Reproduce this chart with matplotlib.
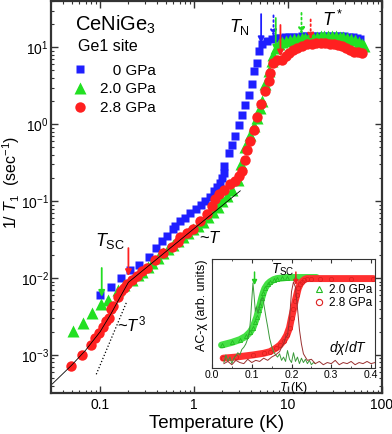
import matplotlib.pyplot as plt
from matplotlib import ticker
from matplotlib.lines import Line2D

plt.rcParams["font.family"] = ["Liberation Sans", "DejaVu Sans"]
plt.rcParams["mathtext.fontset"] = "custom"
plt.rcParams["mathtext.rm"] = "Liberation Sans"
plt.rcParams["mathtext.it"] = "Liberation Sans:italic"
plt.rcParams["mathtext.bf"] = "Liberation Sans:bold"

# ---- main panel: 1/T1 vs T -------------------------------------------------
T_0GPA = [0.099, 0.129, 0.166, 0.207, 0.258, 0.33, 0.393, 0.451, 0.51, 0.592,
          0.626, 0.708, 0.80, 0.906, 1.04, 1.18, 1.31, 1.48, 1.64, 1.75, 1.9,
          1.98, 2.06, 2.09, 2.33, 2.53, 2.74, 2.98, 3.24, 3.51, 3.8, 4.14, 4.3,
          4.67, 4.87, 5.29, 6.0, 6.77, 7.5, 8.3, 9.2, 10.2, 11.3, 12.5, 14,
          15.5, 17.2, 19, 21, 23.5, 26, 29, 32, 35.5, 39.5, 44, 49, 54, 58]
R_0GPA = [0.0060, 0.0076, 0.0100, 0.0127, 0.0147, 0.019, 0.0247, 0.0303,
          0.0351, 0.0429, 0.0473, 0.055, 0.0607, 0.0705, 0.078, 0.089, 0.10,
          0.112, 0.135, 0.153, 0.174, 0.197, 0.232, 0.285, 0.42, 0.54, 0.70,
          0.97, 1.33, 1.76, 2.42, 3.3, 4.9, 6.2, 8.9, 10.9, 12.1, 12.8, 13.2,
          13.4, 13.5, 13.6, 13.7, 13.8, 13.9, 14.0, 14.1, 14.1, 14.2, 14.2,
          14.2, 14.1, 14.1, 14.0, 13.9, 13.7, 13.5, 13.3, 13.0]

T_20GPA = [0.051, 0.066, 0.081, 0.103, 0.121, 0.155, 0.18, 0.22, 0.25, 0.28,
           0.32, 0.36, 0.41, 0.47, 0.53, 0.6, 0.68, 0.77, 0.87, 0.98, 1.1,
           1.24, 1.4, 1.58, 1.78, 2.0, 2.25, 2.55, 2.9, 3.15, 3.5, 3.97, 4.3,
           4.67, 5.06, 5.29, 5.75, 6.2, 6.7, 7.0, 7.5, 8.0, 8.7, 9.6, 10.6,
           11.6, 12.7, 14, 15.3, 16.8, 18.4, 20.2, 22.2, 24.4, 26.8, 29.4,
           32.3, 35.4, 38.9, 42.7, 46.9, 51.5, 56.5, 62, 64]
R_20GPA = [0.00205, 0.0026, 0.0035, 0.0046, 0.0052, 0.0069, 0.0080, 0.0095,
           0.0108, 0.012, 0.0138, 0.0155, 0.018, 0.021, 0.0235, 0.027, 0.030,
           0.034, 0.038, 0.043, 0.048, 0.054, 0.062, 0.072, 0.085, 0.100,
           0.118, 0.14, 0.19, 0.30, 0.50, 0.72, 0.95, 1.2, 1.62, 2.0, 3.3,
           4.9, 6.6, 8.0, 9.9, 10.9, 11.6, 12.2, 12.5, 12.8, 13.0, 13.2, 13.4,
           13.5, 13.7, 13.8, 13.9, 14.0, 14.0, 14.0, 13.9, 13.7, 13.5, 13.2,
           12.8, 12.3, 11.7, 11.0, 10.5]

T_28GPA = [0.049, 0.064, 0.079, 0.089, 0.097, 0.107, 0.116, 0.124, 0.132,
           0.137, 0.155, 0.166, 0.178, 0.193, 0.216, 0.244, 0.276, 0.316,
           0.38, 0.47, 0.58, 0.67, 0.71, 0.835, 0.983, 1.16, 1.37, 1.55,
           1.68, 1.82, 2.06, 2.43, 2.74, 2.98, 3.24, 3.51, 3.66, 3.97, 4.3,
           4.65, 5.2, 5.7, 6.2, 6.5, 7.0, 7.6, 8.7, 9.4, 10.2, 11.3, 12.6,
           14.2, 16, 18, 20, 22.5, 25, 28, 31, 34, 37.5, 41, 45.5, 50.6, 56,
           62]
R_28GPA = [7.2e-4, 1.0e-3, 1.35e-3, 1.68e-3, 1.9e-3, 2.3e-3, 2.8e-3, 3.05e-3,
           3.9e-3, 4.3e-3, 5.7e-3, 6.8e-3, 7.5e-3, 8.4e-3, 9.3e-3, 1.06e-2,
           1.23e-2, 1.36e-2, 1.7e-2, 2.1e-2, 2.5e-2, 2.9e-2, 0.034, 0.0387,
           0.043, 0.055, 0.067, 0.086, 0.105, 0.122, 0.141, 0.165, 0.183,
           0.21, 0.25, 0.345, 0.46, 0.60, 0.85, 1.25, 1.85, 2.7, 3.6, 4.6,
           6.2, 6.9, 6.9, 7.6, 8.5, 9.2, 9.8, 10.4, 10.9, 11.2, 11.3, 11.4,
           11.3, 11.2, 11.0, 10.8, 10.4, 9.8, 9.3, 8.8, 8.6, 8.5]

# guide lines
FIT_T = [0.031, 0.05, 0.07, 0.1, 0.13, 0.16, 0.2, 3.1]
FIT_R = [4.2e-4, 7.4e-4, 1.15e-3, 2.0e-3, 3.4e-3, 5.4e-3, 8.8e-3, 0.136]
CUBE_T = [0.091, 0.193]
CUBE_R = [5.6e-4, 5.0e-3]

# arrows: (T, tail, head, color, linestyle)
MAIN_ARROWS = [
    (5.17, 27, 11.3, "#1f1fff", "-"),
    (7.0, 26, 13.9, "#1f1fff", ":"),
    (7.4, 24, 8.8, "#22dd22", "-"),
    (8.3, 19.5, 7.6, "#ff2020", "-"),
    (13.9, 28, 14.8, "#22dd22", ":"),
    (17.4, 23, 12.6, "#ff2020", ":"),
    (0.104, 0.0135, 0.0057, "#22dd22", "-"),
    (0.20, 0.0245, 0.0106, "#ff2020", "-"),
]

# ---- inset: AC susceptibility ---------------------------------------------
CHI20_T = [0.024, 0.05, 0.07, 0.085, 0.096, 0.103, 0.108, 0.113, 0.117,
           0.121, 0.125, 0.129, 0.133, 0.14, 0.146, 0.155, 0.163, 0.175,
           0.188, 0.21, 0.235, 0.263]
CHI20 = [0.21, 0.235, 0.26, 0.29, 0.33, 0.37, 0.42, 0.47, 0.53, 0.58, 0.64,
         0.69, 0.73, 0.77, 0.79, 0.81, 0.82, 0.825, 0.83, 0.83, 0.83, 0.83]
CHI28_T = [0.028, 0.06, 0.104, 0.13, 0.146, 0.16, 0.171, 0.18, 0.188, 0.195,
           0.2, 0.205, 0.209, 0.213, 0.217, 0.222, 0.226, 0.232, 0.238, 0.25,
           0.272, 0.3, 0.35, 0.406]
CHI28 = [0.09, 0.10, 0.12, 0.135, 0.15, 0.18, 0.21, 0.25, 0.30, 0.37, 0.46,
         0.54, 0.61, 0.67, 0.73, 0.77, 0.79, 0.81, 0.82, 0.82, 0.82, 0.82,
         0.82, 0.82]

D20_T = [0.03, 0.035, 0.04, 0.045, 0.05, 0.055, 0.06, 0.065, 0.07, 0.075,
         0.08, 0.085, 0.09, 0.094, 0.097, 0.1, 0.103, 0.106, 0.109, 0.112,
         0.116, 0.12, 0.124, 0.128, 0.132, 0.136, 0.14, 0.145, 0.15, 0.155,
         0.16, 0.165, 0.17, 0.175, 0.18, 0.185, 0.19, 0.195, 0.2, 0.205,
         0.21, 0.215, 0.22, 0.225, 0.23, 0.235, 0.24, 0.245, 0.25, 0.255,
         0.26]
D20 = [0.05, 0.12, 0.06, 0.10, 0.04, 0.09, 0.11, 0.14, 0.12, 0.17, 0.19,
       0.22, 0.27, 0.33, 0.45, 0.62, 0.78, 0.66, 0.52, 0.56, 0.50, 0.58, 0.63,
       0.64, 0.55, 0.46, 0.38, 0.27, 0.20, 0.15, 0.12, 0.10, 0.13, 0.07, 0.10,
       0.06, 0.16, 0.08, 0.05, 0.14, 0.06, 0.10, 0.04, 0.09, 0.05, 0.08, 0.04,
       0.07, 0.03, 0.05, 0.04]
D28_T = [0.03, 0.04, 0.05, 0.06, 0.07, 0.08, 0.09, 0.1, 0.11, 0.12, 0.13,
         0.14, 0.15, 0.16, 0.17, 0.175, 0.18, 0.185, 0.19, 0.195, 0.2, 0.205,
         0.21, 0.215, 0.22, 0.225, 0.23, 0.24, 0.25, 0.26, 0.27, 0.28, 0.29,
         0.3, 0.31, 0.32, 0.33, 0.34, 0.35, 0.36, 0.37, 0.38, 0.39, 0.4, 0.41]
D28 = [0.04, 0.06, 0.03, 0.07, 0.05, 0.04, 0.08, 0.05, 0.07, 0.06, 0.09,
       0.07, 0.10, 0.12, 0.15, 0.19, 0.22, 0.28, 0.30, 0.45, 0.70, 0.79,
       0.74, 0.55, 0.35, 0.22, 0.13, 0.07, 0.08, 0.04, 0.06, 0.03, 0.05,
       0.04, 0.07, 0.03, 0.05, 0.04, 0.06, 0.03, 0.05, 0.04, 0.06, 0.04, 0.05]

INSET_ARROWS = [(0.107, 0.88, 0.76, "#22cc22"), (0.211, 0.88, 0.76, "#ee2020")]

BLUE, GREEN, RED = "#1f1fff", "#22e022", "#ff2020"
SPINE = "#333333"

fig = plt.figure(figsize=(3.92, 4.34), dpi=100)
ax = fig.add_axes([0.1301, 0.0945, 0.8444, 0.9032])

ax.plot(T_0GPA, R_0GPA, "s", color=BLUE, ms=6, mec="none", label="   0 GPa")
ax.plot(T_20GPA, R_20GPA, "^", color=GREEN, ms=8, mec="none", label="2.0 GPa")
ax.plot(T_28GPA, R_28GPA, "o", color=RED, ms=7.5, mec="none", label="2.8 GPa")
ax.plot(FIT_T, FIT_R, "-", color="k", lw=0.6)
ax.plot(CUBE_T, CUBE_R, ":", color="k", lw=0.9)

for t, tail, head, col, ls in MAIN_ARROWS:
    ax.annotate("", xy=(t, head), xytext=(t, tail),
                arrowprops=dict(arrowstyle="-|>", color=col, lw=1.3,
                                linestyle=ls, mutation_scale=9,
                                shrinkA=0, shrinkB=0))

ax.set_xscale("log")
ax.set_yscale("log")
ax.set_xlim(0.03, 100)
ax.set_ylim(3.2e-4, 40)
ax.xaxis.set_major_formatter(ticker.FuncFormatter(lambda v, _: f"{v:g}"))
ax.xaxis.set_minor_formatter(ticker.NullFormatter())
ax.tick_params(which="both", direction="in", top=True, right=True,
               labelsize=10, color=SPINE)
ax.tick_params(axis="y", which="both", pad=1.5)
ax.tick_params(which="major", length=5, width=1)
ax.tick_params(which="minor", length=2.5, width=0.8)
for s in ax.spines.values():
    s.set_linewidth(1.6)
    s.set_color(SPINE)

ax.set_xlabel("Temperature (K)", fontsize=13.5, labelpad=2)
ax.set_ylabel(r"1/ $T_1$  (sec$^{-1}$)", fontsize=11.5)
ax.yaxis.set_label_coords(-0.088, 0.536)

ax.text(0.073, 0.939, r"CeNiGe$_3$", transform=ax.transAxes, fontsize=14.5,
        va="center")
ax.text(0.082, 0.883, "Ge1 site", transform=ax.transAxes, fontsize=11.5,
        va="center")
ax.text(0.568, 0.934, r"$T_\mathrm{N}$", transform=ax.transAxes,
        fontsize=13, ha="center", va="center")
ax.text(0.852, 0.952, r"$T^*$", transform=ax.transAxes, fontsize=13,
        ha="center", va="center")
ax.text(0.178, 0.388, r"$T_\mathrm{SC}$", transform=ax.transAxes,
        fontsize=13, ha="center", va="center")
ax.text(0.242, 0.176, r"~$T^3$", transform=ax.transAxes, fontsize=12,
        ha="center", va="center")
ax.text(0.483, 0.395, r"~$T$", transform=ax.transAxes, fontsize=12,
        ha="center", va="center")

ax.legend(loc="upper left", bbox_to_anchor=(0.066, 0.84), frameon=False,
          fontsize=11, handlelength=1.0, handletextpad=0.75,
          labelspacing=0.3, borderpad=0, borderaxespad=0)

# ---- inset -----------------------------------------------------------------
ins = fig.add_axes([0.5408, 0.1521, 0.4158, 0.2512])
ins.plot(CHI20_T, CHI20, "-", color="#44e044", lw=5, solid_capstyle="round")
ins.plot(CHI20_T, CHI20, "^", mfc="none", mec="#22bb22", ms=3, mew=0.6)
ins.plot(CHI28_T, CHI28, "-", color="#ff3030", lw=5, solid_capstyle="round")
ins.plot(CHI28_T, CHI28, "o", mfc="none", mec="#dd2020", ms=3, mew=0.6)
ins.plot(D20_T, D20, "-", color="#3a9a3a", lw=0.7)
ins.plot(D28_T, D28, "-", color="#9a3030", lw=0.7)

for t, tail, head, col in INSET_ARROWS:
    ins.annotate("", xy=(t, head), xytext=(t, tail),
                 arrowprops=dict(arrowstyle="-|>", color=col, lw=1.1,
                                 mutation_scale=7, shrinkA=0, shrinkB=0))

ins.set_xlim(0, 0.41)
ins.set_ylim(0, 1)
ins.set_yticks([])
ins.set_xticks([0.0, 0.1, 0.2, 0.3, 0.4])
ins.xaxis.set_major_formatter(ticker.FormatStrFormatter("%.1f"))
ins.xaxis.set_minor_locator(ticker.MultipleLocator(0.05))
ins.tick_params(which="both", direction="in", top=True, labelsize=7.5,
                pad=1.5, color=SPINE)
ins.tick_params(which="major", length=3)
ins.tick_params(which="minor", length=1.5)
for s in ins.spines.values():
    s.set_linewidth(0.8)
    s.set_color(SPINE)
ins.set_xlabel(r"$T$ (K)", fontsize=9, labelpad=0)
ins.set_ylabel("AC-χ (arb. units)", fontsize=9)
ins.yaxis.set_label_coords(-0.025, 0.58)

ins.text(0.436, 0.90, r"$T_\mathrm{SC}$", transform=ins.transAxes,
         fontsize=10, ha="center", va="center")
ins.text(0.834, 0.183, r"$d\chi/dT$", transform=ins.transAxes, fontsize=10,
         ha="center", va="center")

ins_handles = [
    Line2D([], [], ls="none", marker="^", mfc="none", mec="#22bb22", ms=4.5,
           mew=0.8, label="2.0 GPa"),
    Line2D([], [], ls="none", marker="o", mfc="none", mec="#dd2020", ms=4.5,
           mew=0.8, label="2.8 GPa"),
]
ins.legend(handles=ins_handles, loc="upper left", bbox_to_anchor=(0.63, 0.77),
           frameon=False, fontsize=8.5, handlelength=0.8, handletextpad=0.4,
           labelspacing=0.05, borderpad=0, borderaxespad=0)

fig.savefig("out.png", dpi=100)
